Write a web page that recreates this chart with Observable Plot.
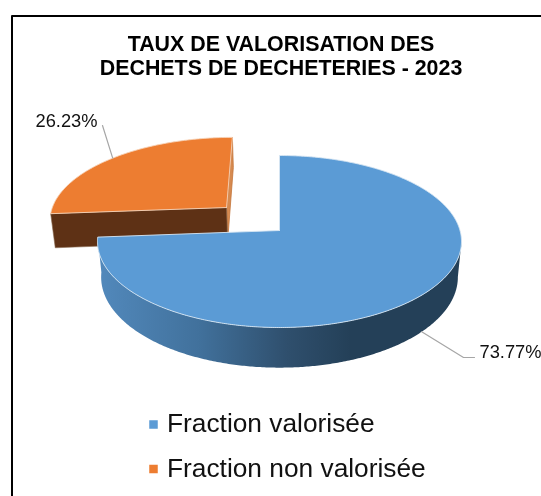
<!DOCTYPE html>
<html>
<head>
<meta charset="utf-8">
<script src="https://cdn.jsdelivr.net/npm/d3@7"></script>
<script src="https://cdn.jsdelivr.net/npm/@observablehq/plot@0.6"></script>
<style>
html,body{margin:0;padding:0;background:#fff}
svg{display:block;filter:blur(0.35px)}
</style>
</head>
<body>
<div id="chart"></div>
<script>
const categories = ["Fraction valorisée", "Fraction non valorisée"];
const values = [73.77, 26.23];
const valueLabels = ["73.77%", "26.23%"];
const titleLines = ["TAUX DE VALORISATION DES", "DECHETS DE DECHETERIES - 2023"];
const faceColors = ["#5b9bd5", "#ed7d31"];

const W = 541, H = 496;
const font = "'Liberation Sans', Arial, sans-serif";

// 3D pie model: a tilted disc seen in perspective
const cx = 279, cy = 230, R = 180.5, B = 84.6, k = 0.128, T = 35, shrink = 0.98, explode = [0, 0.414];

const total = d3.sum(values);
const turn = 2 * Math.PI;
let acc = 0;
const slices = values.map((v, i) => {
  const a0 = acc / total * turn;
  acc += v;
  const a1 = acc / total * turn;
  const mid = (a0 + a1) / 2;
  return {i, a0, a1, mid, ox: Math.sin(mid) * explode[i], oy: -Math.cos(mid) * explode[i]};
});
function project(u, v, lower) {
  const s = 1 / (1 - k * v);
  const x = R * u * s, y = B * v * s;
  return lower
    ? {x: cx + x * shrink, y: cy + y + T * s}
    : {x: cx + x, y: cy + y};
}
function rim(sl, a, lower) {
  return project(sl.ox + Math.sin(a), sl.oy - Math.cos(a), lower);
}
function apex(sl, lower) { return project(sl.ox, sl.oy, lower); }
function arc(sl, a0, a1, lower) {
  const n = Math.max(2, Math.ceil(Math.abs(a1 - a0) / 0.01));
  return d3.range(n + 1).map(j => rim(sl, a0 + (a1 - a0) * j / n, lower));
}
const close = pts => [...pts, pts[0]];

const [blue, orange] = slices;
const blueFace = close([apex(blue, false), ...arc(blue, blue.a0, blue.a1, false)]);
const orangeFace = close([apex(orange, false), ...arc(orange, orange.a0, orange.a1, false)]);
const sideStart = Math.PI - Math.acos(k);
const blueSide = close([...arc(blue, sideStart, blue.a1, false), ...arc(blue, blue.a1, sideStart, true)]);
const orangeFront = close([apex(orange, false), rim(orange, orange.a0, false), rim(orange, orange.a0, true), apex(orange, true)]);
const orangeInner = close([apex(orange, false), rim(orange, orange.a1, false), rim(orange, orange.a1, true), apex(orange, true)]);

// leader lines, from the middle of each slice's rim to its label
const leaderBlue = [rim(blue, blue.mid, true), {x: 463, y: 357}, {x: 474, y: 357}];
const leaderOrange = [rim(orange, orange.mid, false), {x: 102, y: 125}];

const labelRows = [
  {x: 479, y: 358, t: valueLabels[0]},
  {x: 35, y: 127, t: valueLabels[1]}
];
const titleRows = titleLines.map((t, i) => ({t, x: 280.5, y: 51 + i * 24}));
const legendRows = categories.map((t, i) => ({t, x: 153, tx: 166.5, y: 424 + i * 44.5, by: 432 + i * 45, c: faceColors[i]}));
const frame = [{x: 541, y: 15.5}, {x: 11.5, y: 15.5}, {x: 11.5, y: 496}];

const poly = (pts, o) => Plot.line(pts, {x: "x", y: "y", curve: "linear", ...o});

const gradient = () => {
  const defs = d3.create("svg:defs");
  const g = defs.append("linearGradient")
    .attr("id", "blueSide").attr("gradientUnits", "userSpaceOnUse")
    .attr("x1", 97).attr("x2", 350).attr("y1", 0).attr("y2", 0);
  [[0, "#5289bc"], [0.4, "#41719c"], [0.75, "#2f4f6d"], [1, "#244058"]].forEach(([o, c]) =>
    g.append("stop").attr("offset", o).attr("stop-color", c));
  return defs.node();
};

const chart = Plot.plot({
  width: W, height: H,
  margin: 0,
  style: {background: "#fff", fontFamily: font, color: "#000"},
  x: {domain: [0, W], range: [0, W], axis: null},
  y: {domain: [0, H], range: [0, H], axis: null},
  marks: [
    gradient,
    poly(frame, {stroke: "#000", strokeWidth: 2}),
    poly(orangeInner, {fill: "#d68a50", stroke: "#c4753a", strokeWidth: 0.8}),
    poly(orangeFront, {fill: "#5e3115", stroke: "#8a6a50", strokeWidth: 0.6}),
    poly(orangeFace, {fill: faceColors[1], stroke: "#f6d2b8", strokeWidth: 0.9}),
    poly(blueSide, {fill: "url(#blueSide)", stroke: "none"}),
    poly(blueFace, {fill: faceColors[0], stroke: "#d8e6f3", strokeWidth: 0.9}),
    poly(leaderBlue, {stroke: "#a6a6a6", strokeWidth: 1.2}),
    poly(leaderOrange, {stroke: "#a6a6a6", strokeWidth: 1.2}),
    Plot.text(labelRows, {x: "x", y: "y", text: "t", textAnchor: "start", lineAnchor: "bottom", fontSize: 18.3, fill: "#111", dy: -1}),
    Plot.text(titleRows, {x: "x", y: "y", text: "t", textAnchor: "middle", lineAnchor: "bottom", fontSize: 21.4, fontWeight: 700, fill: "#000", dy: -1}),
    Plot.dot(legendRows, {x: "x", y: "y", symbol: "square", r: 4.8, fill: "c", stroke: "none"}),
    Plot.text(legendRows, {x: "tx", y: "by", text: "t", textAnchor: "start", lineAnchor: "bottom", fontSize: 26.3, fill: "#111", dy: -1})
  ]
});
document.getElementById("chart").append(chart);
</script>
</body>
</html>
